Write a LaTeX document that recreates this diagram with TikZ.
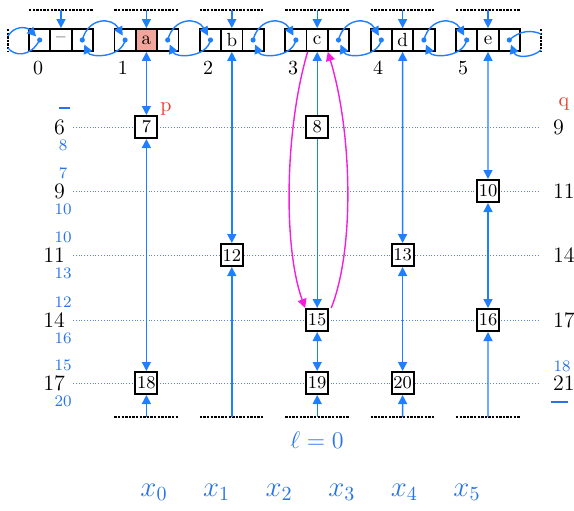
\documentclass[tikz,border=0pt]{standalone}
\usetikzlibrary{arrows.meta}
\definecolor{linkblue}{RGB}{30,128,255}
\definecolor{gridblue}{RGB}{90,130,225}
\definecolor{labblue}{RGB}{40,115,235}
\definecolor{pinkarc}{RGB}{245,30,220}
\definecolor{markred}{RGB}{235,60,45}
\definecolor{cellred}{RGB}{242,165,155}
\begin{document}
\begin{tikzpicture}[x=0.5pt, y=-0.5pt,
    cell/.style={draw, line width=0.9pt, minimum width=10.7pt, minimum height=11pt, inner sep=0pt, font=\fontsize{9.5}{10}\selectfont},
    keybox/.style={draw, line width=1pt, fill=white, minimum size=11pt, inner sep=0pt, font=\fontsize{9}{10}\selectfont},
    ptr/.style={linkblue, line width=0.7pt, -{Triangle[length=4.5pt,width=4.5pt]}},
    dptr/.style={linkblue, line width=0.7pt, {Triangle[length=4.5pt,width=4.5pt]}-{Triangle[length=4.5pt,width=4.5pt]}},
    bare/.style={linkblue, line width=0.7pt},
    sentinel/.style={line width=0.9pt, dash pattern=on 1.2pt off 0.6pt},
    gridline/.style={gridblue, line width=0.5pt, dash pattern=on 0.5pt off 0.9pt},
    sublab/.style={labblue, font=\fontsize{8}{9}\selectfont},
    lvl/.style={font=\fontsize{11}{12}\selectfont}]
  \useasboundingbox (0,0) rectangle (574,510);

  % Level grid
  \foreach \y in {127,191,255,320,383}
    \draw[gridline] (73,\y) -- (540,\y);

  % Top list: three cells per slot
  \foreach \i/\t/\f in {0/--/white,1/a/cellred,2/b/white,3/c/white,4/d/white,5/e/white} {
    \node[cell] (l\i) at ({39.7+85.4*\i},40) {};
    \node[cell, fill=\f] (m\i) at ({61+85.4*\i},40) {\t};
    \node[cell] (r\i) at ({82.3+85.4*\i},40) {};
    \fill[linkblue] (l\i) circle (1.3pt);
    \fill[linkblue] (r\i) circle (1.3pt);
    \node[font=\fontsize{10}{11}\selectfont] (n\i) at ({38+85*\i},68) {\i};
    \draw[sentinel] ({29+85.4*\i},10) -- ({93+85.4*\i},10);
    \coordinate (t\i) at ({61+85.4*\i},10);
    \draw[ptr] (t\i) -- (m\i);
  }
  \foreach \i [evaluate=\i as \j using int(\i+1)] in {0,...,4} {
    \draw[ptr, shorten >=2.5pt] (r\i.center) .. controls +(6,-23) and +(-13,-23) .. (l\j.center);
    \draw[ptr, shorten >=2.5pt] (l\j.center) .. controls +(-4,18) and +(8,18) .. (r\i.center);
  }

  % List ends
  \draw[sentinel] (8,29) -- (8,52);
  \draw[sentinel] (541,29) -- (541,52);
  \coordinate (wa) at (8,36);
  \coordinate (wb) at (8,48);
  \coordinate (ea) at (541,34);
  \coordinate (eb) at (541,50);
  \draw[ptr, shorten >=2.5pt] (wa) .. controls (14,26) and (26,26) .. (l0.center);
  \draw[bare] (l0.center) .. controls (30,58) and (14,56) .. (wb);
  \draw[bare] (r5.center) .. controls (520,30) and (532,30) .. (ea);
  \draw[ptr, shorten >=2.5pt] (eb) .. controls (532,58) and (516,58) .. (r5.center);

  % Bottom sentinels
  \foreach \i in {1,...,5} {
    \draw[sentinel] ({29+85.4*\i},417) -- ({93+85.4*\i},417);
    \coordinate (bo\i) at ({61+85.4*\i},417);
  }

  % Skip-list nodes
  \node[keybox] (k7)  at (146.4,127) {7};
  \node[keybox] (k18) at (146.4,383) {18};
  \node[keybox] (k12) at (231.8,255) {12};
  \node[keybox] (k8)  at (317.2,127) {8};
  \node[keybox] (k15) at (317.2,320) {15};
  \node[keybox] (k19) at (317.2,383) {19};
  \node[keybox] (k13) at (402.6,255) {13};
  \node[keybox] (k20) at (402.6,383) {20};
  \node[keybox] (k10) at (488,191) {10};
  \node[keybox] (k16) at (488,320) {16};

  \draw[dptr] (m1) -- (k7);
  \draw[dptr] (k7) -- (k18);
  \draw[ptr] (bo1) -- (k18);
  \draw[dptr] (m2) -- (k12);
  \draw[ptr] (bo2) -- (k12);
  \draw[ptr] (k8) -- (m3);
  \draw[ptr] (k8) -- (k15);
  \draw[dptr] (k15) -- (k19);
  \draw[ptr] (bo3) -- (k19);
  \draw[dptr] (m4) -- (k13);
  \draw[dptr] (k13) -- (k20);
  \draw[ptr] (bo4) -- (k20);
  \draw[dptr] (m5) -- (k10);
  \draw[dptr] (k10) -- (k16);
  \draw[ptr] (bo5) -- (k16);

  % Spliced links
  \draw[pinkarc, line width=0.7pt, -{Triangle[length=4.5pt,width=4.5pt]}]
    ([xshift=1pt]m3.south west) .. controls +(-23,78) and +(-22,-60) .. (k15.north west);
  \draw[pinkarc, line width=0.7pt, -{Triangle[length=4.5pt,width=4.5pt]}]
    ([xshift=1pt]k15.north east) .. controls +(24,-60) and +(24,78) .. ([xshift=-0.5pt]m3.south east);

  \node[markred, font=\fontsize{10}{11}\selectfont] (p) at (166,109) {p};
  \node[markred, font=\fontsize{10}{11}\selectfont] (q) at (564,104) {q};

  % Left level labels
  \foreach \y/\v/\a/\b in {127/6//8, 191/9/7/10, 255/11/10/13, 320/14/12/16, 383/17/15/20} {
    \node[lvl, anchor=east] at (72,\y) {\v};
    \node[sublab] at (63,{\y-18}) {\a};
    \node[sublab] at (63,{\y+18}) {\b};
  }
  \draw[labblue, line width=0.7pt] (59,108) -- (70,108);

  % Right level labels
  \foreach \y/\v in {127/9, 191/11, 255/14, 320/17, 383/21}
    \node[lvl, anchor=west] at (546,\y) {\v};
  \node[sublab] at (562,366) {18};
  \draw[labblue, line width=0.7pt] (551,402) -- (568,402);

  % Captions
  \node[labblue, font=\fontsize{13}{14}\selectfont] (lv) at (317,440) {$\ell=0$};
  \foreach \i in {0,...,5}
    \node[labblue, font=\fontsize{14}{15}\selectfont] (x\i) at ({154+62.6*\i},492) {$x_{\i}$};
\end{tikzpicture}
\end{document}
